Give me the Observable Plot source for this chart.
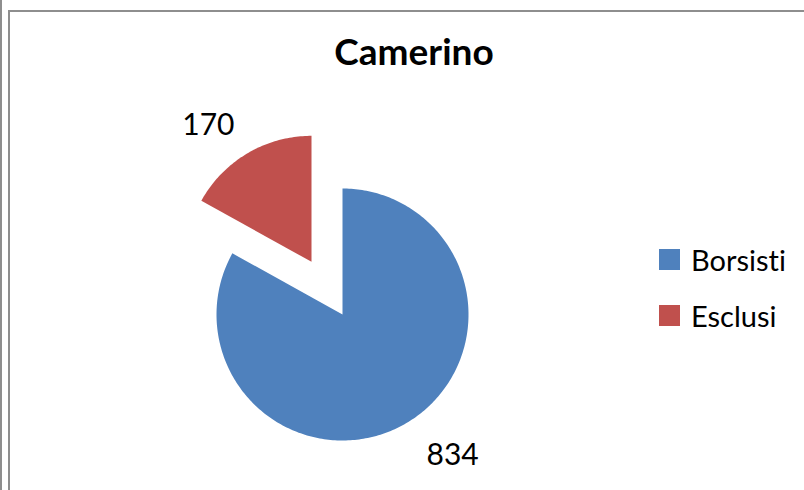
<!DOCTYPE html>
<html>
<head>
<meta charset="utf-8">
<script src="https://cdn.jsdelivr.net/npm/d3@7"></script>
<script src="https://cdn.jsdelivr.net/npm/@observablehq/plot@0.6"></script>
<style>
  html, body { margin: 0; padding: 0; background: #fff; }
  #wrap { position: relative; width: 804px; height: 490px; overflow: hidden; font-family: Lato, "Open Sans", sans-serif; font-variant-ligatures: none; font-feature-settings: "liga" 0, "clig" 0; }
  #lineL { position: absolute; left: 0; top: 0; width: 2px; height: 490px; background: #8e8e8e; }
  #frame { position: absolute; left: 8px; top: 10px; width: 800px; height: 490px; border-left: 2px solid #8e8e8e; border-top: 2px solid #8e8e8e; }
  #title { position: absolute; left: 0; width: 828px; top: 32px; text-align: center; font-weight: bold; font-size: 37px; line-height: 37px; color: #000; }
  #legend { position: absolute; left: 659px; top: 244px; }
  .row { display: flex; align-items: center; height: 30px; margin-bottom: 26px; font-size: 29px; color: #000; }
  .sw { width: 21px; height: 21px; margin-right: 11px; }
  #chart { position: absolute; left: 0; top: 0; }
  #chart text { font-variant-ligatures: none; }
</style>
</head>
<body>
<div id="wrap">
  <div id="lineL"></div>
  <div id="frame"></div>
  <div id="chart"></div>
  <div id="title"></div>
  <div id="legend"></div>
</div>
<script>
// ---- data ----
const title = "Camerino";
const categories = ["Borsisti", "Esclusi"];
const values = [834, 170];
const colors = ["#4F81BD", "#C0504D"];

// ---- layout (not data) ----
const explode = [0, 0.485];          // radial offset of each slice, in radius units
const labelAngleDeg = [142, 323];     // where each value label sits (clockwise from top)
const labelRadius = [1.42, 1.36];     // label distance from slice centre, in radius units

const pie = d3.pie().sort(null).value(d => d)(values);

const slicePts = [];
const labels = [];
pie.forEach((s, i) => {
  const mid = (s.startAngle + s.endAngle) / 2;
  const cx = Math.sin(mid) * explode[i];
  const cy = Math.cos(mid) * explode[i];
  const key = categories[i];
  slicePts.push({key, x: cx, y: cy});
  const n = Math.max(2, Math.ceil((s.endAngle - s.startAngle) / (Math.PI / 180)));
  for (let k = 0; k <= n; k++) {
    const a = s.startAngle + (s.endAngle - s.startAngle) * k / n;
    slicePts.push({key, x: cx + Math.sin(a), y: cy + Math.cos(a)});
  }
  slicePts.push({key, x: cx, y: cy});
  const la = labelAngleDeg[i] * Math.PI / 180;
  labels.push({key, text: String(values[i]), x: cx + Math.sin(la) * labelRadius[i], y: cy + Math.cos(la) * labelRadius[i]});
});

const R = 126, CX = 342, CY = 314;
const chart = Plot.plot({
  width: 804,
  height: 490,
  margin: 0,
  x: {domain: [-1, 1], range: [CX - R, CX + R], axis: null},
  y: {domain: [-1, 1], range: [CY + R, CY - R], axis: null},
  color: {domain: categories, range: colors},
  style: {background: "transparent", fontFamily: "Lato, 'Open Sans', sans-serif"},
  marks: [
    Plot.line(slicePts, {x: "x", y: "y", z: "key", fill: "key", stroke: "none", curve: "linear-closed"}),
    Plot.text(labels, {x: "x", y: "y", text: "text", fontSize: 30, fill: "#000", textAnchor: "middle", lineAnchor: "middle"})
  ]
});
document.getElementById("chart").appendChild(chart);

document.getElementById("title").textContent = title;
const legend = document.getElementById("legend");
categories.forEach((c, i) => {
  const row = document.createElement("div");
  row.className = "row";
  const sw = document.createElement("div");
  sw.className = "sw";
  sw.style.background = colors[i];
  const t = document.createElement("span");
  t.textContent = c;
  row.appendChild(sw);
  row.appendChild(t);
  legend.appendChild(row);
});
</script>
</body>
</html>
